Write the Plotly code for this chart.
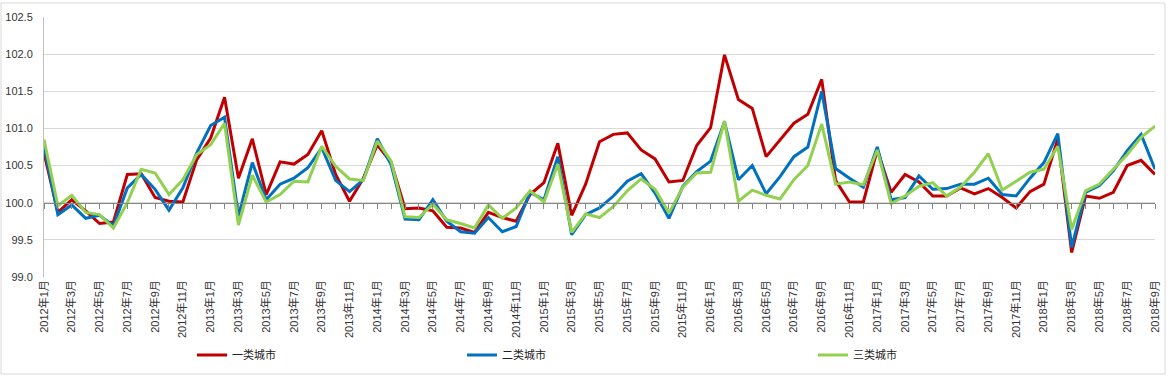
import plotly.graph_objects as go

years = [2012, 2013, 2014, 2015, 2016, 2017, 2018]
months = [f"{y}年{m}月" for y in years for m in range(1, 13)][:81]
tick_labels = months[::2]

series_names = ["一类城市", "二类城市", "三类城市"]

tier1 = [100.67, 99.87, 100.04, 99.89, 99.72, 99.74, 100.38, 100.39, 100.07, 100.02,
         100.01, 100.58, 100.87, 101.42, 100.33, 100.86, 100.11, 100.55, 100.52, 100.65,
         100.97, 100.38, 100.02, 100.33, 100.78, 100.54, 99.92, 99.93, 99.89, 99.67,
         99.66, 99.60, 99.87, 99.80, 99.75, 100.11, 100.27, 100.80, 99.83, 100.25,
         100.82, 100.92, 100.94, 100.71, 100.59, 100.28, 100.30, 100.77, 101.01, 101.99,
         101.39, 101.27, 100.62, 100.84, 101.07, 101.19, 101.66, 100.30, 100.01, 100.01,
         100.71, 100.14, 100.38, 100.28, 100.09, 100.09, 100.20, 100.12, 100.19, 100.07,
         99.93, 100.15, 100.25, 100.86, 99.33, 100.09, 100.06, 100.14, 100.50, 100.57,
         100.38]

tier2 = [100.76, 99.84, 99.97, 99.79, 99.83, 99.69, 100.20, 100.38, 100.18, 99.90,
         100.20, 100.67, 101.04, 101.15, 99.82, 100.54, 100.04, 100.25, 100.33, 100.47,
         100.74, 100.30, 100.15, 100.31, 100.86, 100.51, 99.78, 99.77, 100.04, 99.75,
         99.61, 99.59, 99.80, 99.61, 99.68, 100.14, 100.04, 100.62, 99.57, 99.84,
         99.93, 100.09, 100.29, 100.39, 100.13, 99.79, 100.22, 100.42, 100.56, 101.09,
         100.31, 100.50, 100.12, 100.35, 100.62, 100.75, 101.50, 100.46, 100.33, 100.21,
         100.75, 100.04, 100.07, 100.36, 100.18, 100.19, 100.25, 100.25, 100.33, 100.11,
         100.09, 100.33, 100.54, 100.93, 99.40, 100.14, 100.23, 100.43, 100.70, 100.92,
         100.45]

tier3 = [100.85, 99.96, 100.10, 99.87, 99.84, 99.66, 100.00, 100.45, 100.40, 100.11,
         100.31, 100.65, 100.78, 101.07, 99.70, 100.37, 100.01, 100.11, 100.29, 100.28,
         100.76, 100.49, 100.32, 100.30, 100.83, 100.56, 99.81, 99.80, 99.98, 99.77,
         99.72, 99.66, 99.97, 99.79, 99.93, 100.16, 100.01, 100.52, 99.60, 99.85,
         99.80, 99.95, 100.16, 100.32, 100.18, 99.86, 100.21, 100.40, 100.41, 101.10,
         100.02, 100.17, 100.10, 100.05, 100.31, 100.50, 101.06, 100.25, 100.28, 100.24,
         100.71, 99.99, 100.09, 100.22, 100.27, 100.09, 100.21, 100.41, 100.66, 100.17,
         100.29, 100.41, 100.45, 100.76, 99.64, 100.16, 100.25, 100.45, 100.65, 100.88,
         101.03]

colors = ["#C00000", "#0070C0", "#92D050"]
legend_ids = ["legend", "legend2", "legend3"]

W, H = 1169, 376
L, R, T, B = 44, 14, 17, 99
pw, ph = W - L - R, H - T - B

def px_x(p):
    return (p - L) / pw

def px_y(p):
    return (H - B - p) / ph

FONT = "Liberation Sans, Noto Sans CJK SC, sans-serif"

fig = go.Figure()
for name, vals, col, lg in zip(series_names, [tier1, tier2, tier3], colors, legend_ids):
    fig.add_trace(go.Scatter(x=months, y=vals, name=name, mode="lines",
                             line=dict(color=col, width=3), legend=lg))

# secondary category axis drawn at y = 100 with monthly tick marks
fig.add_trace(go.Scatter(x=months, y=[None] * len(months), xaxis="x2",
                         showlegend=False, hoverinfo="skip"))

legend_common = dict(orientation="h", yanchor="middle", y=px_y(355), xanchor="left",
                     font=dict(family=FONT, size=11, color="#222"),
                     bgcolor="rgba(0,0,0,0)", itemwidth=30)

fig.update_layout(
    width=W, height=H,
    margin=dict(l=L, r=R, t=T, b=B, autoexpand=False),
    paper_bgcolor="white", plot_bgcolor="white",
    font=dict(family=FONT, size=11, color="#333"),
    xaxis=dict(type="category", range=[0, len(months) - 1], tickmode="array",
               tickvals=tick_labels, ticktext=tick_labels, tickangle=-90,
               showgrid=False, showline=False, ticks="", zeroline=False,
               automargin=False,
               tickfont=dict(family=FONT, size=11, color="#333")),
    xaxis2=dict(type="category", range=[0, len(months) - 1], overlaying="x",
                anchor="free", position=(100 - 99.0) / 3.5,
                side="bottom", showline=True, linecolor="#868686", linewidth=1,
                ticks="outside", ticklen=5, tickcolor="#868686", tickwidth=1,
                tickmode="array", tickvals=months, ticktext=[""] * len(months),
                showticklabels=False, showgrid=False, zeroline=False,
                automargin=False),
    yaxis=dict(range=[99.0, 102.5], dtick=0.5, tickformat=".1f",
               showgrid=True, gridcolor="#d9d9d9", gridwidth=1,
               showline=True, linecolor="#bfbfbf", ticks="", zeroline=False,
               ticklabelstandoff=8, automargin=False,
               tickfont=dict(family=FONT, size=11, color="#333")),
    legend=dict(x=px_x(192), **legend_common),
    legend2=dict(x=px_x(462), **legend_common),
    legend3=dict(x=px_x(813), **legend_common),
    shapes=[dict(type="rect", xref="paper", yref="paper",
                 x0=px_x(1), x1=px_x(1165), y0=px_y(374), y1=px_y(3),
                 line=dict(color="#d9d9d9", width=1), layer="below")],
    showlegend=True,
)

fig.write_html("out.html", config={"displayModeBar": False},
               post_script="document.body.style.margin='0px';")
